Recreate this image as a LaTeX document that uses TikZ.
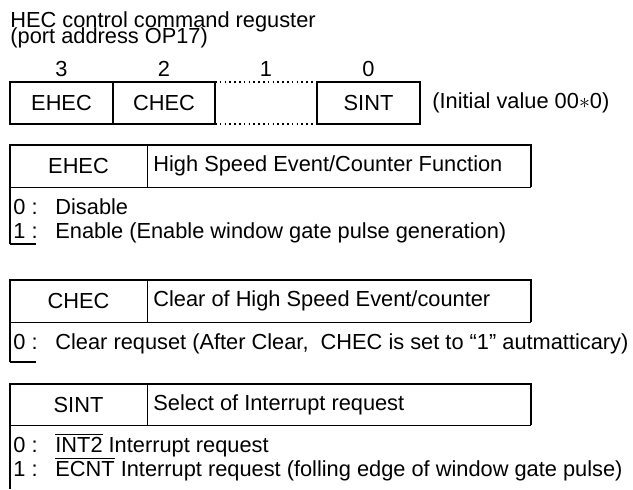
\documentclass[tikz,border=0pt]{standalone}
\usepackage{fontspec}
\setmainfont{Liberation Sans}

\begin{document}
\begin{tikzpicture}[x=0.5pt,y=-0.5pt,
  every node/.style={font=\fontsize{10.9}{13}\selectfont,inner sep=0pt},
  txt/.style={anchor=base west},
  num/.style={anchor=base},
  frame/.style={line width=0.9pt},
  sep/.style={line width=0.5pt},
  dots/.style={line width=0.8pt,dash pattern=on 0.8pt off 1.6pt}]
\useasboundingbox (0,0) rectangle (633,489);

\node[txt] (title) at (10,27) {HEC control command reguster};
\node[txt] (port) at (10,43) {(port address OP17)};

\node[num] (b3) at (61.5,76) {3};
\node[num] (b2) at (164,76) {2};
\node[num] (b1) at (266,76) {1};
\node[num] (b0) at (368.5,76) {0};

\draw[frame] (10,82) -- (215,82) -- (215,124) -- (10,124) -- cycle;
\draw[frame] (113,82) -- (113,124);
\draw[frame] (317,82) -- (420,82) -- (420,124) -- (317,124) -- cycle;
\draw[dots] (215,82) -- (317,82);
\draw[dots] (215,124) -- (317,124);
\node (rehec) at (61.5,103) {EHEC};
\node (rchec) at (164,103) {CHEC};
\node (rsint) at (368.5,103) {SINT};
\node[anchor=west] (init) at (432,103) {(Initial value 00$*$0)};

% EHEC
\draw[frame] (10,244) -- (10,145) -- (531,145) -- (531,187);
\draw[sep] (10,187) -- (531,187);
\draw[sep] (147,145) -- (147,187);
\draw[frame] (10,244) -- (36,244);
\node (hehec) at (78.5,166) {EHEC};
\node[anchor=west] (fehec) at (153,166) {High Speed Event/Counter Function};
\node[txt] (e0) at (13,214) {0 :};
\node[txt] (e0t) at (55,214) {Disable};
\node[txt] (e1) at (13,238) {1 :};
\node[txt] (e1t) at (55,238) {Enable (Enable window gate pulse generation)};

% CHEC
\draw[frame] (10,362) -- (10,280) -- (531,280) -- (531,322);
\draw[sep] (10,322) -- (531,322);
\draw[sep] (147,280) -- (147,322);
\draw[frame] (10,362) -- (36,362);
\node (hchec) at (78.5,301) {CHEC};
\node[anchor=west] (fchec) at (153,301) {Clear of High Speed Event/counter};
\node[txt] (c0) at (13,349) {0 :};
\node[txt] (c0t) at (55,349) {Clear requset (After Clear,\ \ CHEC is set to ``1'' autmatticary)};

% SINT
\draw[frame] (10,489) -- (10,384) -- (531,384) -- (531,425);
\draw[sep] (10,425) -- (531,425);
\draw[sep] (147,384) -- (147,425);
\node (hsint) at (78.5,405) {SINT};
\node[anchor=west] (fsint) at (153,405) {Select of Interrupt request};
\node[txt] (s0) at (13,452) {0 :};
\node[txt] (s0t) at (55,452) {$\overline{\mbox{INT2}}$ Interrupt request};
\node[txt] (s1) at (13,476) {1 :};
\node[txt] (s1t) at (55,476) {$\overline{\mbox{ECNT}}$ Interrupt request (folling edge of window gate pulse)};

\end{tikzpicture}
\end{document}
